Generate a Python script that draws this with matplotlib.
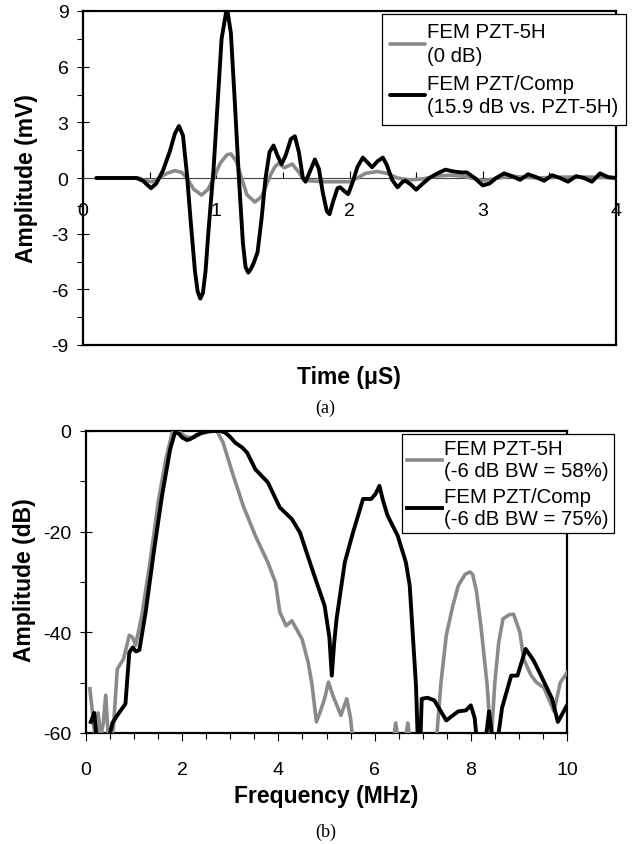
import matplotlib
matplotlib.use("Agg")
import matplotlib.pyplot as plt
from matplotlib.ticker import MultipleLocator

plt.rcParams['font.family'] = ['Liberation Sans', 'DejaVu Sans']
plt.rcParams['axes.unicode_minus'] = False

# ---------------- data: (a) time domain ----------------
time_comp = [0.10, 0.40, 0.45, 0.51, 0.55, 0.60, 0.65, 0.69, 0.72, 0.75, 0.78, 0.81, 0.84, 0.86, 0.88,
             0.90, 0.92, 0.94, 0.98, 1.01, 1.04, 1.08, 1.11, 1.14, 1.17, 1.20, 1.22, 1.24, 1.26, 1.28, 1.31, 1.34,
             1.37, 1.40, 1.43, 1.46, 1.49, 1.52, 1.56, 1.59, 1.62, 1.65, 1.67, 1.70, 1.74, 1.77,
             1.80, 1.83, 1.85, 1.88, 1.91, 1.93, 1.96, 1.99, 2.02, 2.06, 2.10, 2.14, 2.17, 2.21,
             2.25, 2.28, 2.32, 2.36, 2.40, 2.42, 2.46, 2.50, 2.55, 2.60, 2.66, 2.72, 2.78, 2.84,
             2.88, 2.94, 3.00, 3.05, 3.10, 3.16, 3.22, 3.28, 3.34, 3.40, 3.46, 3.52, 3.58, 3.64,
             3.70, 3.76, 3.82, 3.88, 3.94, 4.00]
amp_comp = [0, 0, -0.15, -0.55, -0.3, 0.4, 1.4, 2.4, 2.8, 2.3, 0.2, -2.5, -5.0, -6.1, -6.5,
            -6.2, -5.0, -3.0, 0.5, 4.0, 7.5, 9.2, 7.8, 4.0, 0.0, -3.5, -4.8, -5.1, -4.9, -4.6, -4.0, -2.2,
            0.0, 1.4, 1.75, 1.2, 0.75, 1.2, 2.1, 2.25, 1.4, 0.0, -0.2, 0.3, 1.0, 0.5,
            -0.8, -1.8, -1.95, -1.2, -0.55, -0.5, -0.7, -0.87, -0.3, 0.6, 1.1, 0.8, 0.58, 0.9,
            1.1, 0.7, -0.1, -0.5, -0.2, -0.15, -0.35, -0.63, -0.3, 0.0, 0.25, 0.45, 0.35, 0.3,
            0.3, 0.0, -0.4, -0.3, 0.0, 0.25, 0.1, -0.1, 0.2, 0.05, -0.15, 0.15, 0.0, -0.2,
            0.1, 0.0, -0.2, 0.25, 0.05, 0.0]

time_5h = [0.10, 0.42, 0.47, 0.52, 0.57, 0.63, 0.69, 0.74, 0.78, 0.83, 0.89, 0.94, 0.98, 1.03,
           1.08, 1.11, 1.15, 1.19, 1.23, 1.29, 1.34, 1.38, 1.41, 1.44, 1.47, 1.51, 1.54, 1.57,
           1.61, 1.65, 1.70, 1.80, 1.90, 2.00, 2.06, 2.12, 2.21, 2.28, 2.36, 2.45, 2.55, 2.65,
           2.75, 2.85, 2.95, 3.00, 3.08, 3.20, 3.40, 3.60, 3.80, 4.00]
amp_5h = [0, 0, -0.15, -0.2, 0.0, 0.25, 0.4, 0.3, 0.0, -0.6, -0.92, -0.6, 0.0, 0.8,
          1.25, 1.3, 0.9, 0.0, -0.9, -1.3, -1.0, -0.3, 0.2, 0.6, 0.8, 0.55, 0.65, 0.75,
          0.4, 0.0, -0.15, -0.2, -0.2, -0.2, 0.0, 0.25, 0.35, 0.25, 0.0, -0.1, -0.05, 0.1,
          0.15, 0.1, -0.05, -0.15, -0.05, 0.1, 0.0, 0.05, 0.05, 0.0]

# ---------------- data: (b) frequency domain ----------------
freq_5h = [0.08, 0.13, 0.20, 0.25, 0.31, 0.36, 0.41, 0.47, 0.57, 0.65, 0.78, 0.90, 0.97, 1.03,
           1.16, 1.33, 1.50, 1.66, 1.79, 1.90, 1.96, 2.05, 2.15, 2.25, 2.40, 2.51, 2.65, 2.72,
           2.85, 3.02, 3.27, 3.52, 3.78, 3.94, 4.03, 4.16, 4.28, 4.49, 4.62, 4.70, 4.79, 4.88,
           4.96, 5.04, 5.13, 5.30, 5.42, 5.50, 5.55, 6.38, 6.44, 6.50, 6.63, 6.69, 6.75, 7.28,
           7.38, 7.49, 7.62, 7.74, 7.88, 7.98, 8.04, 8.12, 8.21, 8.34, 8.42, 8.50, 8.58, 8.67,
           8.80, 8.89, 9.02, 9.10, 9.25, 9.36, 9.52, 9.73, 9.86, 10.0]
db_5h = [-51.2, -55.5, -62, -56, -60.5, -58, -52.5, -62, -59, -47.3, -45.3, -40.6, -41, -42.6,
         -36.7, -26.1, -14.2, -5.6, -0.4, 0, -0.3, -1.0, -1.3, -1.3, -0.5, -0.3, 0, 0,
         -2.3, -7.6, -14.9, -20.8, -26.1, -30.1, -36.0, -38.7, -37.7, -41.3, -46, -50.5, -57.8, -55.5,
         -53.2, -49.9, -52.5, -56.5, -53.2, -57, -62, -62, -58, -62, -62, -58, -62, -62,
         -50, -40.6, -35, -30.7, -28.5, -28, -28.5, -32, -38.7, -50.5, -62, -50, -42, -37.3,
         -36.5, -36.4, -40, -45.3, -48.5, -49.9, -51, -55.7, -50, -48]

freq_comp = [0.10, 0.17, 0.23, 0.30, 0.45, 0.55, 0.65, 0.82, 0.90, 0.97, 1.04, 1.11, 1.17, 1.24,
             1.41, 1.58, 1.75, 1.85, 1.93, 2.00, 2.10, 2.17, 2.30, 2.42, 2.55, 2.68, 2.80, 2.89,
             3.00, 3.10, 3.25, 3.35, 3.52, 3.78, 4.03, 4.28, 4.45, 4.70, 4.96, 5.06, 5.11, 5.16,
             5.21, 5.38, 5.55, 5.76, 5.93, 6.02, 6.10, 6.18, 6.27, 6.48, 6.65, 6.73, 6.86, 6.90,
             6.95, 6.98, 7.10, 7.24, 7.49, 7.74, 7.90, 8.00, 8.08, 8.13, 8.30, 8.38, 8.46, 8.55,
             8.65, 8.84, 8.97, 9.14, 9.30, 9.43, 9.69, 9.81, 10.0]
db_comp = [-57.8, -56, -62, -60.5, -62, -58, -56.5, -54.2, -44, -43, -43.8, -43.5, -40, -36,
           -24, -12.9, -3.6, -0.3, -0.5, -1.3, -1.8, -1.6, -0.8, -0.3, 0, 0, 0, -0.3,
           -1.2, -2.3, -3.3, -4.3, -7.6, -10.2, -15.2, -17.5, -20.2, -27.4, -34.7, -41, -48.6, -42,
           -37.3, -26.1, -20.2, -13.5, -13.5, -12.5, -10.9, -14, -16.8, -20.8, -26.1, -30.7, -50.5, -62,
           -62, -53.2, -53, -53.5, -57.5, -55.7, -55.5, -54.5, -57, -62, -62, -55.7, -62, -62,
           -55, -48.6, -48.6, -43.3, -45.5, -48, -53.2, -57.8, -54.5]

labels_a = ["FEM PZT-5H\n(0 dB)", "FEM PZT/Comp\n(15.9 dB vs. PZT-5H)"]
labels_b = ["FEM PZT-5H\n(-6 dB BW = 58%)", "FEM PZT/Comp\n(-6 dB BW = 75%)"]

W, H = 633, 845
fig = plt.figure(figsize=(W / 100, H / 100), dpi=100)

def fx(px):
    return px / W

def fy(py):
    return 1 - py / H

GRAY = '#8a8a8a'
TICK_FS = 14
LAB_FS = 16.5
LEG_FS = 14.7

# ---------------- (a) ----------------
ax1 = fig.add_axes([fx(83), fy(346), fx(616) - fx(83), fy(12) - fy(346)])
l1, = ax1.plot(time_5h, amp_5h, color=GRAY, lw=2.6, solid_capstyle='round', zorder=3)
l2, = ax1.plot(time_comp, amp_comp, color='black', lw=2.8, solid_capstyle='round', zorder=4)
ax1.set_xlim(0, 4)
ax1.set_ylim(-9, 9)
ax1.yaxis.set_major_locator(MultipleLocator(3))
ax1.yaxis.set_minor_locator(MultipleLocator(1.5))
ax1.xaxis.set_major_locator(MultipleLocator(1))
ax1.xaxis.set_minor_locator(MultipleLocator(0.5))
for s in ax1.spines.values():
    s.set_linewidth(1.6)
ax1.spines['bottom'].set_position(('data', 0))
ax1.spines['bottom'].set_linewidth(0.8)
ax1.spines['bottom'].set_color('#444444')
ax1.axhline(-9, color='black', lw=1.6, clip_on=False, zorder=5)
ax1.tick_params(axis='y', which='major', direction='inout', length=9, width=0.8,
                labelsize=TICK_FS, pad=6)
ax1.tick_params(axis='y', which='minor', direction='out', length=4, width=0.8)
ax1.tick_params(axis='y', right=False)
ax1.tick_params(axis='x', which='major', direction='in', length=5, width=0.8,
                labelsize=TICK_FS, pad=17)
ax1.tick_params(axis='x', which='minor', direction='in', length=4, width=0.8)
for lab in ax1.get_xticklabels():
    lab.set_zorder(6)

fig.text(fx(349), fy(378), "Time (\u03bcS)", fontsize=LAB_FS, fontweight='bold',
         ha='center', va='center')
fig.text(fx(27), fy(179), "Amplitude (mV)", fontsize=LAB_FS, fontweight='bold',
         rotation=90, ha='center', va='center')
fig.text(fx(325), fy(408), "(a)", fontsize=13, family='Liberation Serif',
         ha='center', va='center')

leg1 = fig.legend([l1, l2], labels_a, loc='upper left',
                  bbox_to_anchor=(fx(382), fy(15)), bbox_transform=fig.transFigure,
                  fontsize=LEG_FS, frameon=True, fancybox=False, borderaxespad=0,
                  handlelength=1.7, handletextpad=0.1, borderpad=0.4, labelspacing=0.45)
leg1.get_frame().set_edgecolor('black')
leg1.get_frame().set_linewidth(0.9)
leg1.get_frame().set_alpha(1)
for t in leg1.get_texts():
    t.set_linespacing(1.3)

# ---------------- (b) ----------------
ax2 = fig.add_axes([fx(86), fy(734), fx(567) - fx(86), fy(432) - fy(734)])
m1, = ax2.plot(freq_5h, db_5h, color=GRAY, lw=2.6, zorder=3)
m2, = ax2.plot(freq_comp, db_comp, color='black', lw=2.8, zorder=4)
ax2.set_xlim(0, 10)
ax2.set_ylim(-60, 0)
ax2.xaxis.set_major_locator(MultipleLocator(2))
ax2.xaxis.set_minor_locator(MultipleLocator(0.5))
ax2.yaxis.set_major_locator(MultipleLocator(20))
ax2.yaxis.set_minor_locator(MultipleLocator(10))
for s in ax2.spines.values():
    s.set_linewidth(1.6)
ax2.tick_params(axis='y', which='major', direction='inout', length=9, width=0.8,
                labelsize=TICK_FS, pad=6)
ax2.tick_params(axis='y', which='minor', direction='out', length=4, width=0.8)
ax2.tick_params(axis='x', which='major', direction='out', length=6, width=0.8,
                labelsize=TICK_FS, pad=14)
ax2.tick_params(axis='x', which='minor', direction='out', length=4, width=0.8)

fig.text(fx(326), fy(797), "Frequency (MHz)", fontsize=LAB_FS, fontweight='bold',
         ha='center', va='center')
fig.text(fx(25), fy(580), "Amplitude (dB)", fontsize=LAB_FS, fontweight='bold',
         rotation=90, ha='center', va='center')
fig.text(fx(326), fy(832), "(b)", fontsize=13, family='Liberation Serif',
         ha='center', va='center')

leg2 = fig.legend([m1, m2], labels_b, loc='upper left',
                  bbox_to_anchor=(fx(402), fy(435)), bbox_transform=fig.transFigure,
                  fontsize=LEG_FS, frameon=True, fancybox=False, borderaxespad=0,
                  handlelength=1.7, handletextpad=0.1, borderpad=0.25, labelspacing=0.35)
leg2.get_frame().set_edgecolor('black')
leg2.get_frame().set_linewidth(0.9)
leg2.get_frame().set_alpha(1)

fig.savefig("out.png", dpi=100)
